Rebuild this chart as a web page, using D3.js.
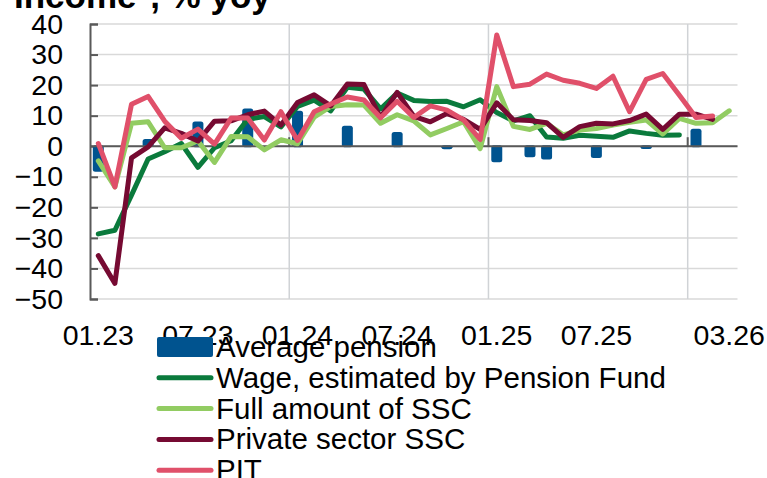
<!DOCTYPE html>
<html><head><meta charset="utf-8">
<script src="https://cdn.jsdelivr.net/npm/d3@7"></script>
<style>
html,body{margin:0;padding:0;background:#fff;overflow:hidden;}
svg{display:block;font-family:"Liberation Sans",Arial,sans-serif;}
</style></head>
<body>
<svg id="c" width="767" height="478"></svg>
<script>
const months = [];
for (let y = 23; y <= 26; y++) for (let m = 1; m <= 12; m++) { if (y === 26 && m > 3) break; months.push(String(m).padStart(2,"0") + "." + y); }
const tickLabels = ["01.23","07.23","01.24","07.24","01.25","07.25","03.26"];
const yTicks = [40,30,20,10,0,-10,-20,-30,-40,-50];
const yearStarts = ["01.24","01.25","01.26"];

const averagePension = [-8,null,null,2,null,null,7.8,null,null,12,null,null,11.3,null,null,6.4,null,null,4.3,null,null,-0.7,null,null,-4.9,null,-3.3,-4,null,null,-3.5,null,null,-0.6,null,null,5.4,null,null];
const wage = [-28.7,-27.5,-16,-4.2,-1.8,0.9,-6.9,-0.5,1.8,8.8,9.7,6.3,13,15.1,11.6,19.3,18.7,12.2,17.4,15,14.6,14.7,12.9,15.2,11,8.3,10,3,2.6,3.6,3.3,2.9,5,4.2,3.6,3.7,null,null,null];
const fullSSC = [-4.8,-13.3,7.5,8,-0.5,-0.5,1.7,-5.3,3.2,3.1,-1.2,2.1,0.8,9.5,13,13.6,13.5,7.5,10.3,8.3,3.7,5.8,8,-0.8,19.5,6.5,5.5,7.5,3.7,5.3,5.8,6.9,7.8,8.6,4,9.1,7.5,7.7,11.6];
const privateSSC = [-35.8,-44.9,-3.8,-0.2,6,4.2,1.7,8.2,8.3,10.3,11.5,6.9,14.3,16.8,13.2,20.4,20.2,9.4,17.6,9.8,8,10.7,8.8,5.5,14.2,8.7,8.4,7.7,2.9,6.4,7.5,7.3,8.4,10.5,5.5,10.5,10.5,8.8,null];
const pit = [0.9,-13.3,13.7,16.3,8.2,2.6,5.6,0.7,9.2,9.2,2,11.3,1.9,11.3,13.8,16.1,15.1,9.3,14.7,9.4,13.2,11.8,8.6,2.2,36.4,19.5,20.3,23.6,21.6,20.6,18.9,22.9,11.3,21.9,23.8,16.7,9.4,9.9,null];

const seriesNames = ["Average pension","Wage, estimated by Pension Fund","Full amount of SSC","Private sector SSC","PIT"];
const colors = ["#00538f","#0a7a3c","#92cc62","#760a32","#e0506a"];
const lineSeries = [wage, fullSSC, privateSSC, pit];

const svg = d3.select("#c");
const L = 90, R = 737.5, T = 24, B = 299;
const x = d3.scaleBand().domain(months).range([L, R]).padding(0);
const y = d3.scaleLinear().domain([-50, 40]).range([B, T]);
const bw = x.bandwidth();
const cx = m => x(m) + bw / 2;

// title (clipped at top)
svg.append("text").attr("x", 14).attr("y", 8).attr("font-size", 35).attr("font-weight", "bold").attr("fill", "#000").text("Income*, % yoy");

// horizontal gridlines
svg.append("g").selectAll("line").data(yTicks).join("line")
  .attr("x1", L).attr("x2", R).attr("y1", d => y(d)).attr("y2", d => y(d))
  .attr("stroke", "#d9d9d9").attr("stroke-width", 1.5);
// vertical gridlines
svg.append("g").selectAll("line").data(yearStarts).join("line")
  .attr("x1", d => x(d)).attr("x2", d => x(d)).attr("y1", T).attr("y2", B)
  .attr("stroke", "#d0d3d6").attr("stroke-width", 1.5);

// y axis
const yAxis = d3.axisLeft(y).tickValues(yTicks).tickSize(-8).tickPadding(0).tickFormat(d3.format("d"));
const gy = svg.append("g").attr("transform", `translate(${L},0)`).call(yAxis);
gy.select(".domain").attr("stroke", "#595959").attr("stroke-width", 2);
gy.selectAll(".tick line").attr("stroke", "#595959").attr("stroke-width", 2);
gy.selectAll(".tick text").attr("x", -27).attr("font-size", 28.5).attr("fill", "#000").attr("font-family", "Liberation Sans, Arial, sans-serif");

// bars
svg.append("g").selectAll("rect").data(months.map((m, i) => ({m, v: averagePension[i]})).filter(d => d.v !== null)).join("rect")
  .attr("x", d => cx(d.m) - 5.5).attr("width", 11)
  .attr("y", d => Math.min(y(d.v), y(0)) - 1).attr("height", d => Math.abs(y(d.v) - y(0)) + 2)
  .attr("rx", 2.5).attr("fill", colors[0]);

// zero line
svg.append("line").attr("x1", L).attr("x2", R).attr("y1", y(0)).attr("y2", y(0)).attr("stroke", "#595959").attr("stroke-width", 2);
// x axis ticks (year boundaries)
svg.append("g").selectAll("line").data(yearStarts).join("line")
  .attr("x1", d => x(d)).attr("x2", d => x(d)).attr("y1", y(0)).attr("y2", y(0) - 9)
  .attr("stroke", "#595959").attr("stroke-width", 2);

// lines
const line = d3.line().defined(d => d.v !== null).x(d => cx(d.m)).y(d => y(d.v));
lineSeries.forEach((s, k) => {
  svg.append("path").datum(months.map((m, i) => ({m, v: s[i]})))
    .attr("d", line).attr("fill", "none").attr("stroke", colors[k + 1])
    .attr("stroke-width", 5).attr("stroke-linejoin", "round").attr("stroke-linecap", "round");
});

// x tick labels
svg.append("g").selectAll("text").data(tickLabels).join("text")
  .attr("x", d => cx(d)).attr("y", 345).attr("text-anchor", "middle")
  .attr("font-size", 28.5).attr("fill", "#000").text(d => d);

// legend
const lg = svg.append("g");
seriesNames.forEach((n, i) => {
  const cy = 347 + i * 30.8;
  if (i === 0) {
    lg.append("rect").attr("x", 157).attr("y", cy - 10).attr("width", 56).attr("height", 20).attr("rx", 2).attr("fill", colors[0]);
  } else {
    lg.append("line").attr("x1", 159).attr("x2", 211).attr("y1", cy).attr("y2", cy)
      .attr("stroke", colors[i]).attr("stroke-width", 5).attr("stroke-linecap", "round");
  }
  lg.append("text").attr("x", 216).attr("y", cy + 10).attr("font-size", 29.5).attr("fill", "#000").text(n);
});
</script>
</body></html>
